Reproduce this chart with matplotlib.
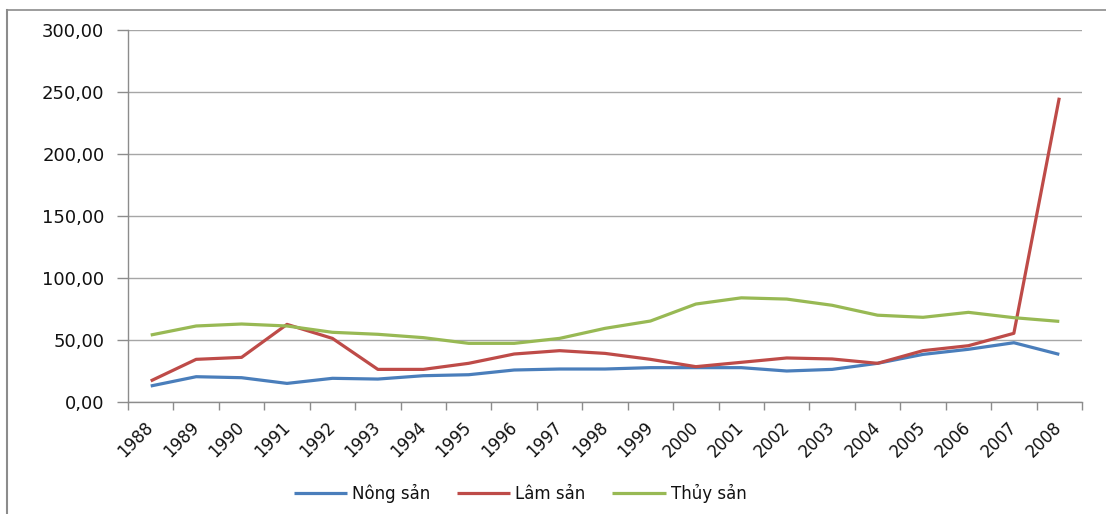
import matplotlib
matplotlib.use("Agg")
import matplotlib.pyplot as plt
from matplotlib.lines import Line2D
from matplotlib.ticker import FixedLocator, FuncFormatter

years = [str(y) for y in range(1988, 2009)]
nong_san = [12.9, 20.4, 19.6, 15.0, 19.1, 18.5, 21.2, 22.0, 25.8, 26.6, 26.6,
            27.7, 27.7, 27.7, 25.0, 26.3, 31.2, 38.4, 42.5, 47.8, 38.4]
lam_san = [17.0, 34.4, 36.0, 62.6, 51.3, 26.3, 26.3, 31.2, 38.7, 41.4, 39.2,
           34.4, 28.5, 32.0, 35.5, 34.7, 31.2, 41.4, 45.4, 55.4, 245.4]
thuy_san = [54.0, 61.3, 62.9, 61.3, 56.2, 54.6, 51.9, 47.3, 47.3, 51.3, 59.4,
            65.3, 79.0, 84.0, 83.0, 78.0, 70.0, 68.3, 72.3, 68.0, 65.0]
series_names = ["Nông sản", "Lâm sản", "Thủy sản"]
series_colors = ["#4A7EBB", "#BE4B48", "#98B954"]
y_ticks = [0, 50, 100, 150, 200, 250, 300]

W, H = 1106, 514
fig = plt.figure(figsize=(W / 100, H / 100), dpi=100)
fig.patch.set_facecolor("white")
ax = fig.add_axes([128 / W, 1 - 402 / H, (1082 - 128) / W, (402 - 30) / H])

x = list(range(len(years)))
for vals, name, col in zip([nong_san, lam_san, thuy_san], series_names, series_colors):
    ax.plot(x, vals, color=col, lw=2.3, label=name, solid_joinstyle="round",
            solid_capstyle="butt", zorder=3)

ax.set_xlim(-0.5, len(years) - 0.5)
ax.set_ylim(0, 300)
ax.set_yticks(y_ticks)
ax.yaxis.set_major_formatter(FuncFormatter(lambda v, p: f"{v:.2f}".replace(".", ",")))
ax.grid(axis="y", color="#A6A6A6", lw=1.0, zorder=0)
ax.set_axisbelow(True)

# Year labels centred on categories, tick marks on category boundaries
ax.xaxis.set_major_locator(FixedLocator([i - 0.5 for i in range(len(years) + 1)]))
ax.xaxis.set_minor_locator(FixedLocator(x))
ax.set_xticklabels([""] * (len(years) + 1))
ax.set_xticklabels(years, minor=True, rotation=45, ha="right", va="center",
                   rotation_mode="anchor", fontsize=12, color="#111111")
ax.tick_params(axis="x", which="minor", length=0, pad=16)
ax.tick_params(axis="x", which="major", length=6, color="#8C8C8C", width=1)
ax.tick_params(axis="y", length=8, color="#8C8C8C", width=1, pad=9,
               labelsize=13, labelcolor="#111111")

for s in ["top", "right"]:
    ax.spines[s].set_visible(False)
for s in ["left", "bottom"]:
    ax.spines[s].set_color("#8C8C8C")
    ax.spines[s].set_linewidth(1.0)

leg = fig.legend(loc="center", bbox_to_anchor=(520 / W, 1 - 493 / H), ncol=3,
                 frameon=False, fontsize=12, handlelength=3.2, columnspacing=1.6,
                 handletextpad=0.3)
for t in leg.get_texts():
    t.set_color("#111111")

# Chart area border
fig.add_artist(Line2D([7 / W, 7 / W], [0, 1 - 10 / H], transform=fig.transFigure,
                      color="#8C8C8C", lw=1.5))
fig.add_artist(Line2D([7 / W, 1], [1 - 10 / H, 1 - 10 / H], transform=fig.transFigure,
                      color="#8C8C8C", lw=1.2))

fig.savefig("out.png", dpi=100, facecolor="white")
